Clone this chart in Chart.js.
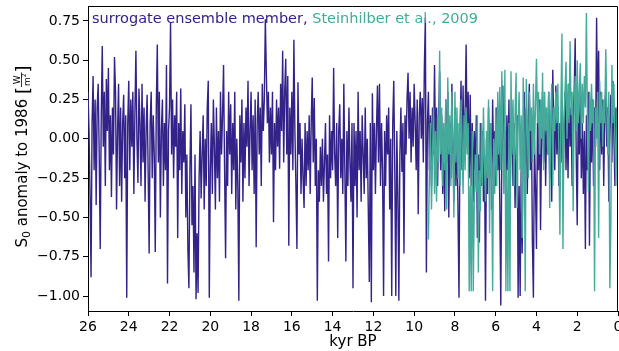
<!DOCTYPE html>
<html>
<head>
<meta charset="utf-8">
<script src="https://cdn.jsdelivr.net/npm/chart.js@4.4.1/dist/chart.umd.min.js"></script>
<style>
  html, body { margin: 0; padding: 0; background: #fff; }
  #wrap { width: 619px; height: 351px; position: relative; }
</style>
</head>
<body>
<div id="wrap"><canvas id="tsiChart"></canvas></div>
<script>
// surrogate member, 26 kyr BP -> 0, one value every 50 yr
const surrogateStart = 26;
const surrogateValues = [
  0.3, 0.05, -0.35, -0.88, 0.1, 0.4, -0.2, 0.25, -0.42, 0.2, 0.35, -0.1, -0.7, 0.15, 0.59, -0.05, 0.3, -0.3, 0.38, 0.05,          // 26-25
  0.45, -0.2, 0.15, -0.37, 0.2, -0.1, 0.52, 0.3, -0.45, 0.05, 0.35, -0.3, 0.2, -0.4, 0.1, 0.28, -0.25, 0.15, -1.01, 0.1,          // 25-24
  0.37, -0.2, 0.25, -0.05, 0.3, -0.35, 0.15, 0.56, 0.0, -0.28, 0.32, 0.1, -0.3, 0.35, -0.15, 0.2, -0.4, 0.05, 0.28, -0.2,         // 24-23
  -0.73, 0.1, 0.3, -0.25, 0.15, -0.1, -0.72, 0.2, 0.6, -0.15, 0.3, -0.5, 0.05, 0.25, -0.3, 0.1, -0.2, 0.47, -0.92, 0.05,          // 23-22
  0.2, 0.74, -0.1, 0.25, -0.25, 0.15, -0.05, 0.3, -0.63, 0.1, -0.2, 0.32, -0.35, 0.05, -0.15, 0.22, -0.5, -0.1, -0.7, -0.95,      // 22-21
  -0.2, 0.22, -0.55, -0.3, -0.85, -0.1, -1.02, -0.6, -0.98, -0.25, 0.05, -0.38, -0.1, 0.15, -0.45, 0.0, -0.3, 0.2, 0.37, -1.01,  // 21-20
  -0.2, 0.1, -0.35, 0.25, -0.05, -0.45, 0.2, -0.25, 0.05, -0.4, 0.3, -0.1, 0.15, 0.47, -0.2, -0.76, 0.05, -0.3, 0.3, -0.1,        // 20-19
  0.22, -0.35, 0.1, -0.2, 0.3, -0.45, 0.0, -0.3, -1.03, 0.15, -0.15, 0.25, -0.4, 0.1, -0.25, 0.2, -0.05, 0.37, -0.3, 0.05,        // 19-18
  0.3, -0.2, 0.15, -0.35, 0.25, -0.69, 0.1, 0.3, -0.1, 0.2, -0.3, 0.35, 0.05, 0.25, 0.76, 0.41, 0.1, 0.3, -0.15, 0.2,             // 18-17
  -0.1, 0.3, -0.53, 0.1, -0.2, 0.25, -0.05, 0.2, -0.19, 0.35, 0.05, 0.56, -0.15, 0.3, 0.51, -0.1, 0.4, -0.68, 0.2, -0.1,          // 17-16
  0.3, -0.2, 0.63, 0.05, -0.3, -0.7, 0.36, -0.1, 0.1, -0.35, 0.0, -0.25, -0.44, 0.1, -0.3, 0.05, -0.2, 0.15, -0.35, 0.1,          // 16-15
  0.39, -0.15, 0.26, -0.3, 0.0, -1.03, -0.2, -0.4, -0.05, -0.3, 0.0, -0.4, -0.15, 0.1, -0.35, -0.1, -0.78, 0.15, -0.25, 0.05,     // 15-14
  -0.2, 0.45, -0.1, -0.3, 0.1, -0.63, 0.05, 0.22, -0.25, 0.0, -0.35, 0.35, -0.2, -0.78, 0.05, -0.3, 0.2, -0.15, -0.4, 0.1,        // 14-13
  -0.95, 0.1, -0.3, 0.05, -0.5, 0.3, -0.2, 0.05, -0.4, 0.15, -0.1, -0.35, 0.2, -0.25, 0.0, -0.45, -0.91, 0.1, -1.04, 0.29,        // 13-12
  -0.2, 0.1, -0.35, 0.05, 0.34, -0.15, 0.35, -0.3, 0.1, -0.2, -1.0, 0.05, -0.3, 0.15, -0.1, 0.2, -0.45, 0.0, -1.0, 0.1,           // 12-11
  0.37, -0.2, -1.0, 0.05, -0.35, -1.03, -0.1, 0.2, -0.21, 0.1, -0.73, 0.15, -0.1, 0.25, 0.42, 0.0, 0.3, -0.15, 0.2, -0.05,        // 11-10
  0.35, 0.1, -0.2, 0.25, -0.48, 0.15, 0.3, 0.0, 0.26, -0.15, 0.45, 0.77, -0.85, 0.1, 0.3, -0.2, 0.15, -0.3, 0.2, -0.1,            // 10-9
  0.47, -0.1, 0.2, -0.3, 0.1, 0.43, -0.2, 0.15, -0.35, 0.05, -0.46, 0.25, -0.15, 0.3, -0.5, 0.1, -0.25, 0.35, -0.05, -0.4,        // 9-8
  0.2, -0.3, 0.1, -0.45, -1.01, 0.05, 0.37, -0.2, 0.34, -0.1, 0.15, 0.6, -0.05, 0.3, -0.25, 0.28, -0.3, 0.1, -0.4, 0.05,          // 8-7
  -0.2, 0.15, -0.63, -0.1, -0.66, 0.1, -0.3, 0.05, -0.4, -0.1, -1.03, 0.0, -0.35, 0.2, -0.25, 0.1, -0.45, 0.25, -0.15, 0.05,      // 7-6
  -0.3, 0.2, -0.2, 0.1, -0.4, -1.06, -0.1, 0.34, -0.25, 0.05, -0.35, 0.15, -0.2, 0.25, -0.45, 0.0, 0.2, -0.3, 0.1, -0.44,         // 6-5
  -0.1, 0.15, -1.01, -0.3, -1.0, -0.2, -0.73, 0.05, 0.3, -0.25, 0.2, -0.35, 0.1, 0.35, -0.2, 0.15, -0.65, -1.01, 0.0, -0.3,       // 5-4
  -0.7, 0.1, -0.2, 0.25, -0.58, 0.0, 0.3, -0.15, 0.2, -0.3, 0.1, -0.1, 0.3, -0.25, 0.15, -0.4, 0.44, 0.05, -0.2, 0.34,            // 4-3
  -0.1, 0.2, -0.3, 0.1, -0.15, 0.25, -0.35, 0.05, 0.3, -0.2, 0.15, -0.25, 0.35, -0.05, 0.2, -0.3, 0.1, 0.3, 0.64, -0.1,           // 3-2
  -0.55, 0.2, -0.1, 0.3, -0.25, 0.1, -0.35, 0.05, -0.7, 0.15, -0.2, 0.3, -0.68, 0.1, -0.15, 0.25, -0.3, 0.2, -0.05, 0.77,         // 2-1
  0.1, 0.56, -0.2, 0.3, -0.1, 0.25, -0.3, 0.15, 0.33, -0.05, 0.2, -0.4, 0.1, 0.28, -0.15, 0.37, 0.0, -0.3, 0.2, -0.1,             // 1-0
  0.15
];

// Steinhilber et al. (2009) reconstruction, 9.3 kyr BP -> 0
const steinhilberStart = 9.3;
const steinhilberValues = [
  -0.64, -0.2, 0.1, -0.45, -0.1, 0.2,                                                                                               // 9.3-9.05
  -0.35, 0.05, -0.4, 0.15, -0.15, 0.56, -0.1, 0.2, -0.3, 0.1, -0.2, 0.25, -0.45, 0.39, -0.1, 0.15, -0.3, 0.3, -0.05, -0.5,          // 9-8
  0.3, -0.15, 0.2, -0.25, 0.1, -0.3, 0.25, 0.0, -0.35, 0.15, -0.2, 0.2, -0.1, 0.1, -0.97, -0.3, -0.97, 0.05, -0.97, -0.4,          // 8-7
  -0.1, -0.34, 0.15, -0.85, -0.2, -0.46, 0.1, -0.3, 0.2, -0.15, -0.4, 0.05, -0.25, 0.25, -0.6, 0.1, -0.2, -0.97, 0.0, -0.35,      // 7-6
  0.2, -0.3, 0.3, -0.1, 0.33, -0.2, 0.43, 0.0, -0.35, 0.44, -0.97, -0.2, -0.97, 0.1, -0.97, 0.43, -0.1, 0.25, -0.3, 0.15,          // 6-5
  0.42, -0.44, 0.1, 0.3, -0.2, 0.15, -0.63, 0.39, 0.0, -0.97, 0.38, 0.1, -0.25, 0.3, 0.05, 0.2, -0.15, 0.35, -0.1, 0.2,            // 5-4
  0.51, 0.1, 0.3, -0.1, 0.25, 0.0, 0.42, -0.2, 0.3, 0.05, 0.2, -0.1, 0.3, -0.44, 0.15, 0.35, -0.3, 0.2, 0.05, 0.3,                 // 4-3
  0.1, 0.35, -0.1, -0.61, 0.2, 0.67, -0.7, 0.1, 0.3, 0.49, 0.0, 0.35, 0.1, 0.62, 0.15, 0.3, -0.46, 0.2, 0.4, 0.05,                 // 3-2
  0.5, 0.1, 0.3, 0.48, 0.0, 0.35, 0.1, 0.4, 0.2, 0.8, 0.1, -0.34, 0.3, 0.05, 0.35, 0.1, 0.25, -0.97, 0.2, 0.0,                     // 2-1
  0.3, -0.63, 0.37, 0.1, 0.3, -0.05, 0.25, 0.1, 0.57, 0.2, -0.1, 0.3, -0.95, -0.53, 0.47, 0.1, 0.35, 0.0, -0.3, 0.15,              // 1-0
  0.25
];

const sampleStep = 0.05;
const xTicks = [26, 24, 22, 20, 18, 16, 14, 12, 10, 8, 6, 4, 2, 0];
const yTicks = [-1.0, -0.75, -0.5, -0.25, 0.0, 0.25, 0.5, 0.75];

const INDIGO = '#332288';
const TEAL = '#44aa99';
const FONT = '"DejaVu Sans", sans-serif';

function toPoints(start, values) {
  return values.map((v, i) => ({ x: +(start - i * sampleStep).toFixed(2), y: v }));
}

// frame, in-plot legend text and axis titles
const decorations = {
  id: 'decorations',
  afterDraw(chart) {
    const ctx = chart.ctx;
    const a = chart.chartArea;
    ctx.save();

    // top + right spines
    ctx.strokeStyle = '#000';
    ctx.lineWidth = 1;
    ctx.beginPath();
    ctx.moveTo(a.left, a.top + 0.5);
    ctx.lineTo(a.right - 0.5, a.top + 0.5);
    ctx.lineTo(a.right - 0.5, a.bottom);
    ctx.stroke();

    // legend written as text
    ctx.font = '14.5px ' + FONT;
    ctx.textBaseline = 'alphabetic';
    ctx.textAlign = 'left';
    const first = 'surrogate ensemble member,';
    ctx.fillStyle = INDIGO;
    ctx.fillText(first, 92, 23);
    ctx.fillStyle = TEAL;
    ctx.fillText('Steinhilber et al., 2009', 92 + ctx.measureText(first + ' ').width, 23);

    // x title
    ctx.font = '15px ' + FONT;
    ctx.fillStyle = '#000';
    ctx.textAlign = 'center';
    ctx.fillText('kyr BP', (a.left + a.right) / 2, 346);

    // y title: S0 anomaly to 1986 [W/m2]
    ctx.translate(22, (a.top + a.bottom) / 2 - 2);
    ctx.rotate(-Math.PI / 2);
    ctx.textAlign = 'left';
    const big = '15px ' + FONT, small = '11px ' + FONT, tiny = '9px ' + FONT, micro = '6px ' + FONT;
    const bracket = '18px ' + FONT;
    const w = (txt, f) => { ctx.font = f; return ctx.measureText(txt).width; };
    const wS = w('S', big), w0 = w('0', small), wMid = w(' anomaly to 1986 ', big);
    const wB = w('[', bracket);
    const wW = w('W', tiny), wm = w('m', tiny), w2 = w('2', micro);
    const fracW = Math.max(wW, wm + w2) + 2;
    const total = wS + w0 + wMid + 2 * wB + fracW;
    let x = -total / 2;
    const base = 5;
    ctx.font = big; ctx.fillText('S', x, base); x += wS;
    ctx.font = small; ctx.fillText('0', x, base + 3); x += w0;
    ctx.font = big; ctx.fillText(' anomaly to 1986 ', x, base); x += wMid;
    ctx.font = bracket; ctx.fillText('[', x, base + 2); x += wB;
    ctx.font = tiny; ctx.textAlign = 'center';
    ctx.fillText('W', x + fracW / 2, -2.5);
    ctx.textAlign = 'left';
    ctx.fillText('m', x + 1, 7.5);
    ctx.font = micro; ctx.fillText('2', x + 1 + wm, 4);
    ctx.beginPath();
    ctx.lineWidth = 0.8;
    ctx.moveTo(x, -0.5);
    ctx.lineTo(x + fracW, -0.5);
    ctx.stroke();
    x += fracW;
    ctx.font = bracket; ctx.fillText(']', x, base + 2);

    ctx.restore();
  }
};

const config = {
  type: 'line',
  data: {
    datasets: [{
      label: 'Steinhilber et al., 2009',
      data: toPoints(steinhilberStart, steinhilberValues),
      borderColor: TEAL,
      borderWidth: 1.4,
      pointRadius: 0,
      tension: 0,
      order: 0
    }, {
      label: 'surrogate ensemble member',
      data: toPoints(surrogateStart, surrogateValues),
      borderColor: INDIGO,
      borderWidth: 1.4,
      pointRadius: 0,
      tension: 0,
      order: 1
    }]
  },
  options: {
    responsive: false,
    animation: false,
    layout: { padding: { left: 0, right: 1, top: 6, bottom: 0 } },
    plugins: { legend: { display: false }, tooltip: { enabled: false } },
    scales: {
      x: {
        type: 'linear',
        reverse: true,
        min: 0,
        max: 26,
        grid: { drawOnChartArea: false, drawTicks: true, tickLength: 5, color: '#000' },
        border: { display: true, color: '#000', width: 1 },
        ticks: { color: '#000', font: { family: FONT, size: 14 }, padding: 3, maxRotation: 0, autoSkip: false },
        afterBuildTicks: s => { s.ticks = xTicks.map(v => ({ value: v })); },
        afterFit: s => { s.height = 40; s.paddingLeft = 0; s.paddingRight = 0; }
      },
      y: {
        min: -1.095,
        max: 0.845,
        grid: { drawOnChartArea: false, drawTicks: true, tickLength: 5, color: '#000' },
        border: { display: true, color: '#000', width: 1 },
        ticks: {
          color: '#000',
          font: { family: FONT, size: 14 },
          padding: 3,
          callback: v => v.toFixed(2).replace('-', '\u2212')
        },
        afterBuildTicks: s => { s.ticks = yTicks.map(v => ({ value: v })); },
        afterFit: s => { s.width = 88; s.paddingTop = 0; s.paddingBottom = 0; }
      }
    }
  },
  plugins: [decorations]
};

const canvas = document.getElementById('tsiChart');
canvas.width = 619;
canvas.height = 351;
const tsiChart = new Chart(canvas, config);
</script>
</body>
</html>
